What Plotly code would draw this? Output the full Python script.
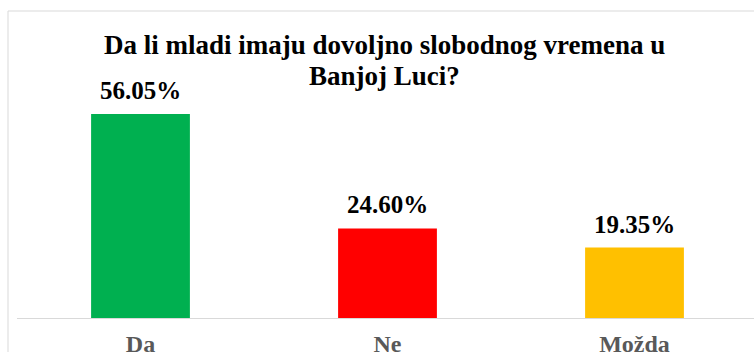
import plotly.graph_objects as go

categories = ["Da", "Ne", "Možda"]
values = [56.05, 24.60, 19.35]
labels = ["56.05%", "24.60%", "19.35%"]
colors = ["#00B050", "#FF0000", "#FFC000"]
title_lines = ["Da li mladi imaju dovoljno slobodnog vremena u", "Banjoj Luci?"]

W, H = 754, 352
ml, mr, mt, mb = 17, 0, 60, 34
plot_w = W - ml - mr
plot_h = H - mt - mb
px_per_cat = 247.0
px_per_unit = 204.0 / 56.05
FONT = "Liberation Serif"

fig = go.Figure(go.Bar(
    x=categories, y=values, marker=dict(color=colors, line=dict(width=0)),
    hoverinfo="skip",
))

for c, v, t in zip(categories, values, labels):
    fig.add_annotation(x=c, y=v, text="<b>" + t + "</b>", showarrow=False,
                       yanchor="bottom", yshift=8,
                       font=dict(family=FONT, size=25, color="#000000"))

# title (two lines, tighter spacing than plotly's default)
for line, cy in zip(title_lines, [45, 75.5]):
    fig.add_annotation(xref="paper", yref="paper",
                       x=(384 - ml) / plot_w, y=(H - mb - cy) / plot_h,
                       xanchor="center", yanchor="middle", showarrow=False,
                       text="<b>" + line + "</b>",
                       font=dict(family=FONT, size=27, color="#000000"))

# chart border
fig.add_shape(type="rect", xref="paper", yref="paper",
              x0=(8 - ml) / plot_w, x1=(770 - ml) / plot_w,
              y0=(H - mb - 370) / plot_h, y1=(H - mb - 11) / plot_h,
              line=dict(color="#D9D9D9", width=1), fillcolor="rgba(0,0,0,0)",
              layer="below")

fig.update_layout(
    width=W, height=H,
    margin=dict(l=ml, r=mr, t=mt, b=mb, pad=0, autoexpand=False),
    paper_bgcolor="white", plot_bgcolor="white",
    bargap=0.6, showlegend=False,
    xaxis=dict(range=[-0.5, -0.5 + plot_w / px_per_cat], showline=True,
               linecolor="#D9D9D9", linewidth=1, showgrid=False, zeroline=False,
               ticks="", ticklabelstandoff=4, automargin=False,
               tickvals=categories,
               ticktext=["<b>" + c + "</b>" for c in categories],
               tickfont=dict(family=FONT, size=24, color="#595959")),
    yaxis=dict(range=[0, plot_h / px_per_unit], visible=False, showgrid=False,
               zeroline=False, automargin=False),
)

fig.write_html("out.html")
